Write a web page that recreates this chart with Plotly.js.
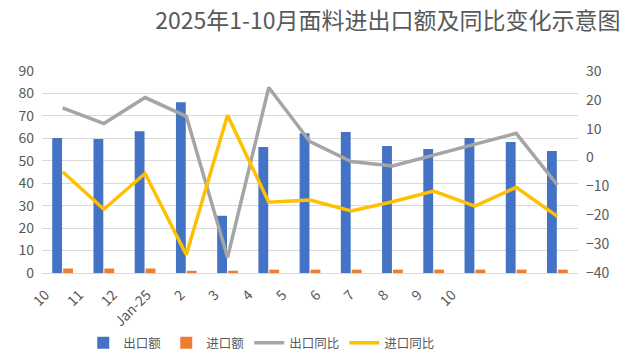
<!DOCTYPE html>
<html>
<head>
<meta charset="utf-8">
<script src="https://cdn.plot.ly/plotly-3.0.1.min.js"></script>
<style>html,body{margin:0;padding:0;background:#fff;}#chart{width:639px;height:360px;}</style>
</head>
<body>
<div id="chart"></div>
<script>
var categories = ["10","11","12","Jan-25","2","3","4","5","6","7","8","9","10"];
var exportValue = [60.2, 59.7, 63.2, 76.1, 25.5, 56.1, 62.3, 62.8, 56.6, 55.2, 60.1, 58.4, 54.4];
var importValue = [2.0, 2.0, 2.0, 1.0, 1.0, 1.5, 1.5, 1.5, 1.5, 1.5, 1.5, 1.5, 1.5];
var exportYoY = [17.2, 11.8, 20.8, 14.3, -34.6, 24.3, 5.5, -1.4, -2.9, 0.9, 4.9, 8.4, -9.5];
var importYoY = [-4.9, -17.9, -5.5, -33.7, 14.7, -15.5, -14.7, -18.5, -15.3, -11.6, -16.8, -10.3, -20.4];
var leftTicks = [0,10,20,30,40,50,60,70,80,90];
var rightTicks = [-40,-30,-20,-10,0,10,20,30];

var idx = categories.map(function(_, i){ return i; });
var FONT = '"Noto Sans CJK SC", "Noto Sans", sans-serif';
var GREY = '#595959';

var traces = [
  {type:'bar', name:'出口额', x: idx, y: exportValue, marker:{color:'#4472C4'}, xaxis:'x', yaxis:'y'},
  {type:'bar', name:'进口额', x: idx, y: importValue, marker:{color:'#ED7D31'}, xaxis:'x', yaxis:'y'},
  {type:'scatter', mode:'lines', name:'出口同比', x: idx, y: exportYoY, line:{color:'#A5A5A5', width:3.5}, xaxis:'x', yaxis:'y2'},
  {type:'scatter', mode:'lines', name:'进口同比', x: idx, y: importYoY, line:{color:'#FFC000', width:3.5}, xaxis:'x', yaxis:'y2'},
  // invisible carrier for the category label axis
  {type:'scatter', mode:'markers', x: idx, y: exportValue, xaxis:'x2', yaxis:'y', marker:{opacity:0}, showlegend:false, hoverinfo:'skip'}
];

var layout = {
  width: 639, height: 360,
  margin: {l: 42, r: 61, t: 71, b: 87, autoexpand:false},
  paper_bgcolor: '#fff', plot_bgcolor: '#fff',
  font: {family: FONT, color: GREY, size: 14},
  title: {text: '2025年1-10月面料进出口额及同比变化示意图', font:{family: FONT, size: 23, color: GREY},
          x: 0.607, xanchor:'center', xref:'container', y: 0.942, yanchor:'middle', yref:'container'},
  barmode: 'group', bargap: 0.47, bargroupgap: 0.1,
  showlegend: true,
  legend: {orientation:'h', x: 0.41, xanchor:'center', y: -0.347, yanchor:'middle', font:{size:12.5, color: GREY},
           traceorder:'normal', itemwidth: 30, itemclick:false},
  xaxis: {range:[-0.5, 12.5], automargin:false, showticklabels:false,
          showgrid:false, showline:true, linecolor:'#d9d9d9', ticks:'', zeroline:false},
  xaxis2: {overlaying:'x', side:'bottom', anchor:'y', tickmode:'array', tickvals: idx, ticktext: categories, tickangle: -45,
          range:[-0.1, 15.72], automargin:false, showgrid:false, showline:false, ticks:'', zeroline:false,
          tickfont:{size:14, color:GREY}, ticklabelstandoff: 10},
  yaxis: {range:[0,90], tickmode:'array', tickvals:leftTicks, showgrid:true, gridcolor:'#d9d9d9', zeroline:false, automargin:false,
          tickfont:{size:14, color:GREY}, ticks:'', showline:false, ticklabelstandoff: 7},
  yaxis2: {range:[-40,30], tickmode:'array', tickvals:rightTicks, overlaying:'y', side:'right', showgrid:false, zeroline:false, automargin:false,
          tickfont:{size:14, color:GREY}, ticks:'', showline:false, ticklabelstandoff: 7}
};

Plotly.newPlot('chart', traces, layout, {displayModeBar:false, staticPlot:true});
</script>
</body>
</html>
